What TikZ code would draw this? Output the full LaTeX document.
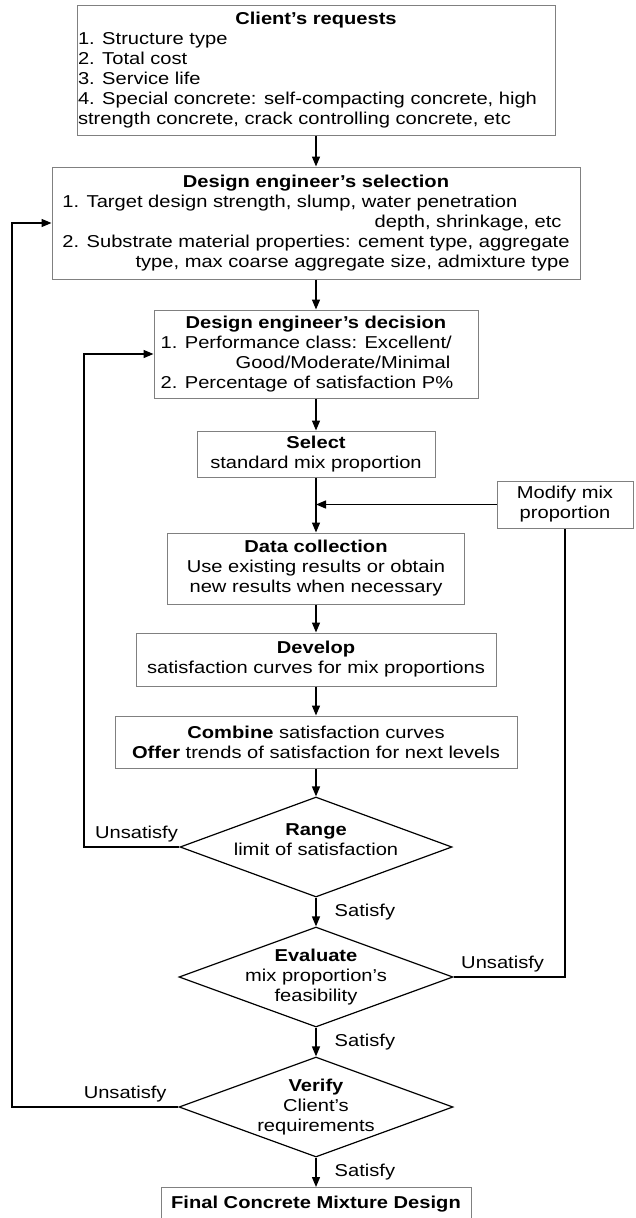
\documentclass[tikz,border=0pt]{standalone}
\usepackage{fontspec}
\setmainfont{Liberation Sans}[FakeStretch=1.17]
\usetikzlibrary{shapes.geometric,arrows.meta}
\definecolor{boxgray}{gray}{0.5}
\begin{document}
\begin{tikzpicture}[x=1pt,y=-1pt,
  every node/.style={font=\fontsize{17.2}{20}\selectfont, inner sep=0pt},
  box/.style={draw=boxgray, line width=1pt, align=center},
  dia/.style={diamond, draw=black, line width=1.2pt, inner sep=0pt},
  conn/.style={line width=1.4pt, -{Triangle[length=10pt,width=8pt]}},
  plainline/.style={line width=1.4pt},
  lab/.style={anchor=south, yshift=4pt},
  slab/.style={anchor=west, xshift=18pt}]
\useasboundingbox (0,0) rectangle (635,1218);

\node[box, minimum width=478, minimum height=130] (client) at (316,70)
 {\begin{tabular}{@{}l@{}}\multicolumn{1}{@{}c@{}}{\hspace*{17pt}\bfseries Client's requests}\\
 1. Structure type\\ 2. Total cost\\ 3. Service life\\
 4. Special concrete: self-compacting concrete, high\\
 strength concrete, crack controlling concrete, etc\end{tabular}\hspace*{17pt}};

\node[box, minimum width=528, minimum height=112] (sel) at (316,223)
 {\begin{tabular}{@{}l@{}}\multicolumn{1}{@{}c@{}}{\bfseries Design engineer's selection}\\
 1. Target design strength, slump, water penetration\\
 \multicolumn{1}{@{}r@{}}{depth, shrinkage, etc\hspace*{8pt}}\\
 2. Substrate material properties: cement type, aggregate\\
 \multicolumn{1}{@{}r@{}}{type, max coarse aggregate size, admixture type}\end{tabular}};

\node[box, minimum width=324, minimum height=88] (dec) at (316,354)
 {\begin{tabular}{@{}l@{}}\multicolumn{1}{@{}c@{}}{\hspace*{18pt}\bfseries Design engineer's decision}\\
 1. Performance class: Excellent/\\
 \multicolumn{1}{@{}r@{}}{Good/Moderate/Minimal\hspace*{3pt}}\\
 2. Percentage of satisfaction P\%\end{tabular}\hspace*{18pt}};

\node[box, minimum width=238, minimum height=46] (std) at (316,454)
 {\textbf{Select}\\standard mix proportion};

\node[box, minimum width=136, minimum height=47] (mod) at (565,504.5)
 {Modify mix\\proportion};

\node[box, minimum width=297, minimum height=71] (data) at (316,568.5)
 {\textbf{Data collection}\\Use existing results or obtain\\new results when necessary};

\node[box, minimum width=360, minimum height=53] (dev) at (316,659.5)
 {\textbf{Develop}\\satisfaction curves for mix proportions};

\node[box, minimum width=402, minimum height=52] (comb) at (316,742)
 {\textbf{Combine} satisfaction curves\\\textbf{Offer} trends of satisfaction for next levels};

\node[dia, minimum width=272, minimum height=100,
  label={[align=center, yshift=7pt]center:{\textbf{Range}\\limit of satisfaction}}] (range) at (316,847) {};

\node[dia, minimum width=274, minimum height=100,
  label={[align=center]center:{\textbf{Evaluate}\\mix proportion's\\feasibility}}] (eval) at (316,977) {};

\node[dia, minimum width=274, minimum height=100,
  label={[align=center]center:{\textbf{Verify}\\Client's\\requirements}}] (verify) at (316,1107) {};

\node[box, minimum width=310, minimum height=34, anchor=north] (final) at (316,1187)
 {\textbf{Final Concrete Mixture Design}};

\coordinate (xa) at (84,0);
\coordinate (xb) at (12,0);

\draw[conn] (client) -- (sel);
\draw[conn] (sel) -- (dec);
\draw[conn] (dec) -- (std);
\draw[conn] (std) -- (data);
\draw[conn] (mod.west) -- (mod.west -| std.south);
\draw[conn] (data) -- (dev);
\draw[conn] (dev) -- (comb);
\draw[conn] (comb) -- (range);
\draw[conn] (range) -- node[slab]{Satisfy} (eval);
\draw[conn] (eval) -- node[slab]{Satisfy} (verify);
\draw[conn] (verify) -- node[slab]{Satisfy} (final);

\draw[conn] (range.west) -- node[lab, pos=0.45]{Unsatisfy} (range.west -| xa) |- (dec.west);
\draw[conn] (verify.west) -- node[lab, pos=0.32]{Unsatisfy} (verify.west -| xb) |- (sel.west);
\draw[plainline] (eval.east) -- node[lab, pos=0.44]{Unsatisfy} (eval.east -| mod.south) -- (mod.south);
\end{tikzpicture}
\end{document}
